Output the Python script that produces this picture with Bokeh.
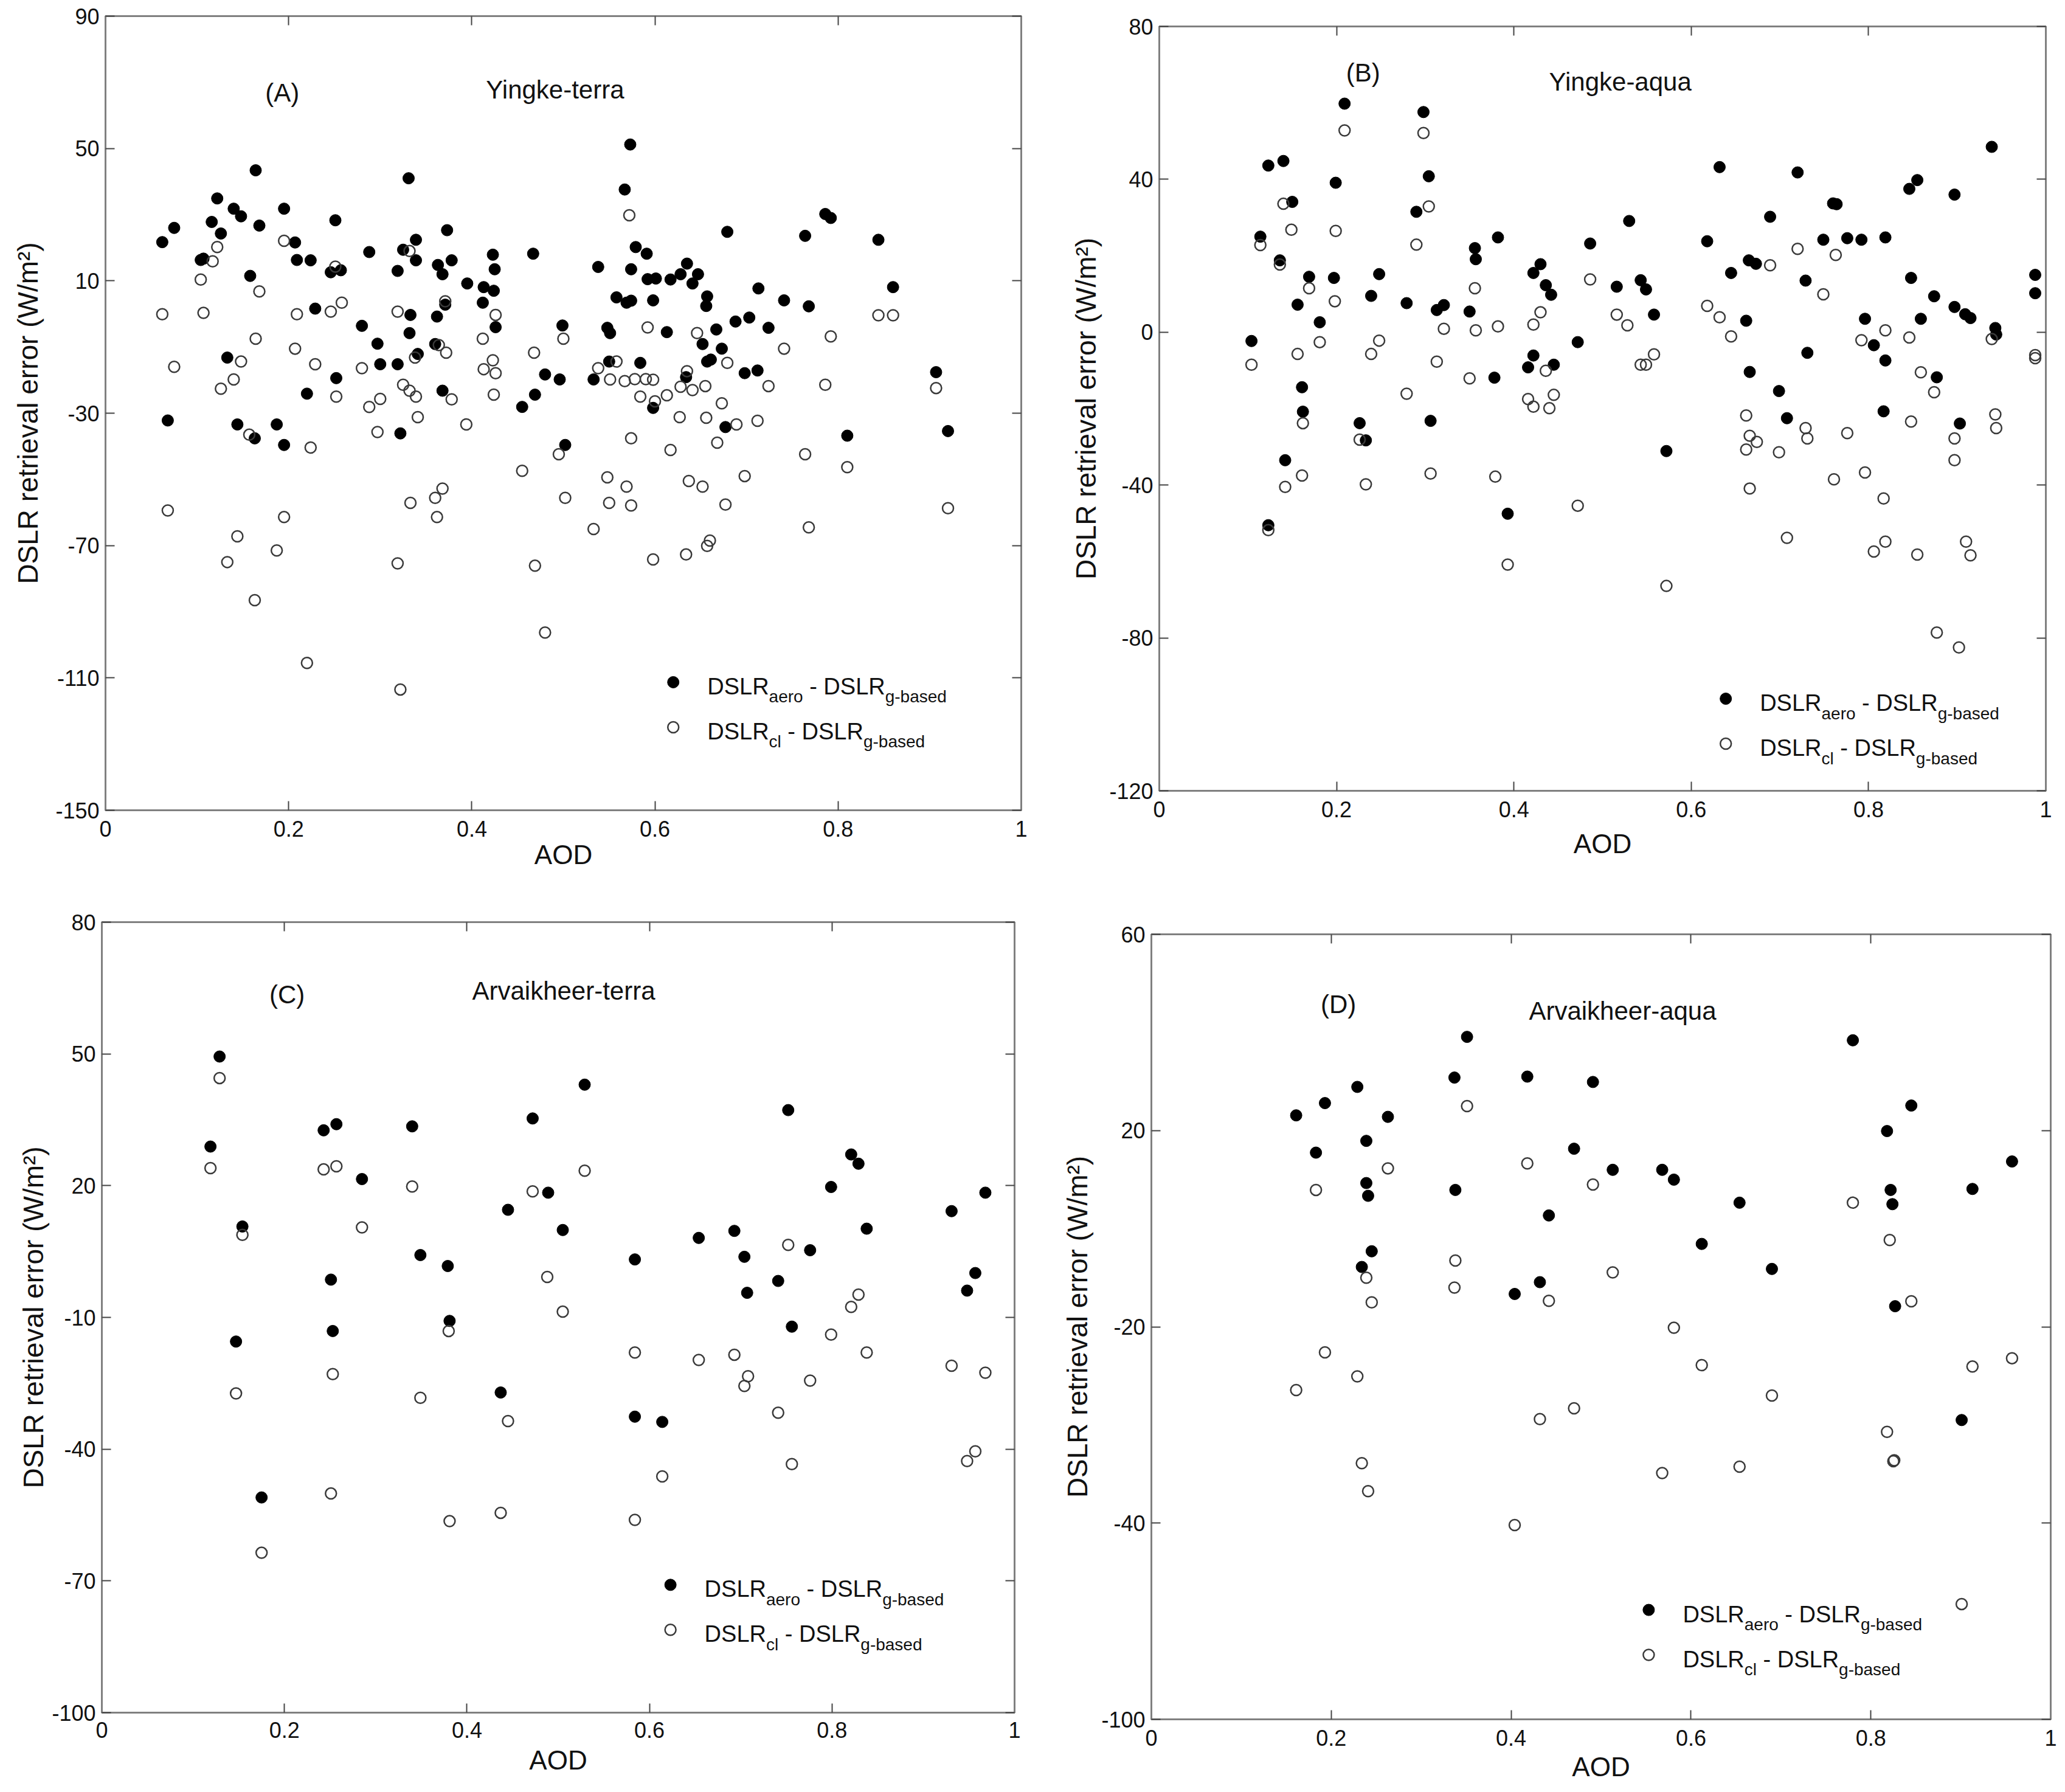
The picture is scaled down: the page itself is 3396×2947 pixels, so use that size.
from bokeh.plotting import figure
from bokeh.models import LinearAxis, FixedTicker, CustomJSTickFormatter
from bokeh.embed import file_html
from bokeh.resources import INLINE
from bokeh.core.properties import value

FONT = "Liberation Sans"
TXT = "#111111"
FRAME = "#808080"

# ---------------- data ----------------
x_ticks = [0, 0.2, 0.4, 0.6, 0.8, 1]
x_tick_labels = ["0", "0.2", "0.4", "0.6", "0.8", "1"]

a_y_ticks = [-150, -110, -70, -30, 10, 50, 90]
a_y_tick_labels = ["-150", "-110", "-70", "-30", "10", "50", "90"]
b_y_ticks = [-120, -80, -40, 0, 40, 80]
b_y_tick_labels = ["-120", "-80", "-40", "0", "40", "80"]
c_y_ticks = [-100, -70, -40, -10, 20, 50, 80]
c_y_tick_labels = ["-100", "-70", "-40", "-10", "20", "50", "80"]
d_y_ticks = [-100, -60, -20, 20, 60]
d_y_tick_labels = ["-100", "-40", "-20", "20", "60"]

panel_titles = ["Yingke-terra", "Yingke-aqua", "Arvaikheer-terra", "Arvaikheer-aqua"]
panel_tags = ["(A)", "(B)", "(C)", "(D)"]

# (AOD, error) pairs
a_aero = [(0.062,21.7),(0.075,26.0),(0.104,16.3),(0.107,16.7),(0.122,34.9),(0.116,27.8),(0.126,24.3),
          (0.140,31.8),(0.148,29.5),(0.164,43.4),(0.168,26.7),(0.158,11.5),(0.195,31.8),(0.207,21.6),
          (0.209,16.3),(0.224,16.2),(0.251,28.3),(0.246,12.6),(0.257,13.2),(0.229,1.6),(0.133,-13.2),
          (0.068,-32.2),(0.144,-33.4),(0.163,-37.6),(0.187,-33.4),(0.195,-39.6),(0.220,-24.1),(0.252,-19.4),
          (0.280,-3.6),(0.297,-9.0),(0.300,-15.2),(0.288,18.7),(0.319,13.0),(0.325,19.4),(0.339,22.4),
          (0.339,16.2),(0.331,41.0),(0.319,-15.2),(0.333,-0.3),(0.332,-5.8),(0.341,-12.1),(0.322,-36.1),
          (0.363,14.8),(0.368,12.0),(0.378,16.2),(0.373,25.3),(0.371,2.8),(0.362,-0.8),(0.360,-9.1),
          (0.368,-23.2),(0.395,9.2),(0.413,8.1),(0.424,7.0),(0.412,3.4),(0.423,17.9),(0.425,13.5),
          (0.426,-4.0),(0.467,18.2),(0.455,-28.1),(0.469,-24.4),(0.480,-18.3),(0.496,-19.8),(0.499,-3.5),
          (0.502,-39.6),
          (0.573,51.2),(0.567,37.6),(0.579,20.2),(0.591,18.2),(0.538,14.2),(0.574,13.5),(0.558,5.0),
          (0.569,3.4),(0.574,4.0),(0.598,4.1),(0.592,10.5),(0.601,10.7),(0.617,10.4),(0.628,12.0),
          (0.635,15.2),(0.647,12.0),(0.641,9.2),(0.657,5.3),(0.656,2.4),(0.548,-4.2),(0.551,-5.8),
          (0.550,-14.4),(0.533,-19.8),(0.584,-14.8),(0.613,-5.5),(0.598,-28.4),(0.634,-19.1),(0.652,-9.1),
          (0.667,-4.7),(0.673,-10.5),(0.657,-14.4),(0.661,-13.8),(0.679,24.8),(0.688,-2.3),(0.703,-1.1),
          (0.713,7.7),(0.698,-17.9),(0.712,-17.1),(0.724,-4.2),(0.741,4.1),(0.768,2.3),(0.764,23.6),
          (0.786,30.2),(0.792,29.0),(0.844,22.4),(0.860,8.1),(0.677,-34.2),(0.810,-36.8),(0.907,-17.6),
          (0.920,-35.4)]
a_cl = [(0.062,-0.1),(0.075,-16.0),(0.068,-59.4),(0.104,10.4),(0.107,0.3),(0.117,15.9),(0.122,20.2),
        (0.126,-22.6),(0.133,-75.0),(0.140,-19.8),(0.144,-67.2),(0.148,-14.4),(0.157,-36.5),(0.163,-86.5),
        (0.164,-7.5),(0.168,6.8),(0.195,22.1),(0.195,-61.4),(0.187,-71.5),(0.207,-10.5),(0.209,-0.1),
        (0.220,-105.5),(0.224,-40.4),(0.229,-15.2),(0.246,0.7),(0.251,14.3),(0.252,-25.0),(0.258,3.4),
        (0.280,-16.4),(0.288,-28.1),(0.300,-25.7),(0.297,-35.7),(0.319,0.7),(0.319,-75.4),(0.322,-113.5),
        (0.325,-21.4),(0.332,-23.2),(0.332,19.0),(0.338,-13.2),(0.339,-25.0),(0.341,-31.2),(0.333,-57.1),
        (0.360,-55.6),(0.368,-52.8),(0.362,-61.4),(0.364,-9.4),(0.372,-11.7),(0.371,3.8),(0.378,-25.8),
        (0.394,-33.4),(0.412,-7.5),(0.413,-16.7),(0.423,-14.0),(0.426,-17.9),(0.424,-24.4),(0.426,-0.3),
        (0.468,-11.7),(0.455,-47.4),(0.469,-76.1),(0.480,-96.3),(0.495,-42.4),(0.500,-7.5),(0.502,-55.6),
        (0.572,29.8),(0.538,-16.4),(0.558,-14.4),(0.551,-19.8),(0.567,-20.3),(0.578,-19.7),(0.590,-19.7),
        (0.598,-19.9),(0.592,-4.1),(0.584,-25.0),(0.600,-26.4),(0.613,-24.6),(0.628,-22.0),(0.635,-17.3),
        (0.641,-23.0),(0.655,-21.8),(0.646,-5.8),(0.679,-14.8),(0.673,-27.0),(0.627,-31.2),(0.656,-31.4),
        (0.689,-33.4),(0.712,-32.3),(0.724,-21.8),(0.741,-10.5),(0.792,-6.8),(0.786,-21.4),(0.844,-0.4),
        (0.860,-0.4),(0.907,-22.4),(0.574,-37.6),(0.617,-41.1),(0.668,-38.9),(0.764,-42.4),(0.810,-46.3),
        (0.548,-49.4),(0.569,-52.2),(0.550,-57.1),(0.574,-57.9),(0.637,-50.5),(0.652,-52.2),(0.677,-57.6),
        (0.698,-49.0),(0.920,-58.7),(0.533,-65.0),(0.768,-64.5),(0.598,-74.2),(0.634,-72.7),(0.660,-68.5),
        (0.657,-70.1)]

b_aero = [(0.104,-2.3),(0.114,25.0),(0.123,43.6),(0.140,44.8),(0.150,34.1),(0.136,18.8),(0.156,7.2),
          (0.169,14.5),(0.181,2.6),(0.197,14.2),(0.199,39.1),(0.209,59.8),(0.161,-14.4),(0.162,-20.8),
          (0.142,-33.5),(0.123,-50.5),(0.226,-23.8),(0.233,-28.3),(0.239,9.5),(0.248,15.2),(0.279,7.6),
          (0.290,31.5),(0.298,57.6),(0.304,40.8),(0.313,5.8),(0.321,7.1),(0.306,-23.2),(0.350,5.4),
          (0.356,22.0),(0.357,19.1),(0.382,24.8),(0.378,-11.9),(0.393,-47.5),(0.416,-9.2),(0.422,-6.1),
          (0.422,15.5),(0.430,17.8),(0.436,12.3),(0.442,9.8),(0.445,-8.5),(0.472,-2.6),(0.486,23.2),
          (0.516,11.9),(0.530,29.1),
          (0.543,13.6),(0.549,11.2),(0.558,4.6),(0.572,-31.1),(0.618,23.8),(0.632,43.2),(0.645,15.5),
          (0.662,3.0),(0.665,18.8),(0.673,17.9),(0.666,-10.4),(0.689,30.2),(0.699,-15.4),(0.708,-22.5),
          (0.720,41.8),(0.729,13.5),(0.731,-5.4),(0.749,24.2),(0.760,33.7),(0.764,33.5),(0.776,24.6),
          (0.792,24.2),(0.796,3.5),(0.806,-3.4),(0.819,24.8),(0.819,-7.4),(0.817,-20.7),(0.846,37.5),
          (0.855,39.8),(0.848,14.2),(0.859,3.5),(0.874,9.4),(0.877,-11.8),(0.897,36.0),(0.897,6.6),
          (0.909,4.7),(0.915,3.7),(0.903,-23.9),(0.939,48.5),(0.943,1.1),(0.944,-0.6),(0.988,15.0),
          (0.988,10.2)]
b_cl = [(0.104,-8.5),(0.114,22.8),(0.136,17.7),(0.140,33.6),(0.149,26.8),(0.169,11.5),(0.156,-5.7),
        (0.181,-2.6),(0.198,8.1),(0.199,26.5),(0.209,52.8),(0.162,-23.8),(0.161,-37.5),(0.142,-40.5),
        (0.123,-51.8),(0.226,-28.1),(0.233,-39.8),(0.239,-5.7),(0.248,-2.2),(0.279,-16.1),(0.290,22.9),
        (0.298,52.1),(0.304,32.9),(0.313,-7.7),(0.321,0.9),(0.306,-37.0),(0.350,-12.1),(0.356,11.5),
        (0.357,0.5),(0.382,1.5),(0.379,-37.8),(0.393,-60.8),(0.416,-17.5),(0.422,-19.5),(0.422,2.0),
        (0.430,5.2),(0.436,-10.1),(0.440,-19.9),(0.445,-16.4),(0.472,-45.4),(0.486,13.8),(0.516,4.6),
        (0.528,1.8),
        (0.543,-8.5),(0.549,-8.5),(0.558,-5.8),(0.572,-66.4),(0.618,6.9),(0.632,3.9),(0.645,-1.1),
        (0.689,17.5),(0.662,-21.8),(0.666,-27.1),(0.674,-28.7),(0.662,-30.7),(0.666,-40.9),(0.699,-31.4),
        (0.708,-53.8),(0.720,21.8),(0.729,-25.1),(0.731,-27.8),(0.749,9.9),(0.763,20.2),(0.776,-26.4),
        (0.761,-38.5),(0.792,-2.1),(0.796,-36.7),(0.806,-57.4),(0.819,0.5),(0.819,-54.8),(0.817,-43.5),
        (0.846,-1.4),(0.859,-10.5),(0.848,-23.4),(0.874,-15.7),(0.855,-58.2),(0.877,-78.6),(0.902,-82.5),
        (0.897,-27.8),(0.897,-33.5),(0.910,-54.8),(0.915,-58.4),(0.939,-1.8),(0.943,-21.5),(0.944,-25.1),
        (0.988,-6.0),(0.988,-6.8)]

c_aero = [(0.119,28.9),(0.129,49.4),(0.154,10.7),(0.147,-15.5),(0.175,-51.0),(0.243,32.6),(0.257,34.0),
          (0.285,21.5),(0.251,-1.4),(0.253,-13.1),(0.340,33.5),(0.349,4.2),(0.379,1.7),(0.381,-10.8),
          (0.437,-27.1),(0.445,14.5),(0.472,35.3),(0.489,18.4),(0.505,9.9),(0.529,43.0),(0.584,3.2),
          (0.584,-32.6),(0.614,-33.8),(0.654,8.1),(0.693,9.7),(0.704,3.8),(0.707,-4.4),(0.741,-1.7),
          (0.752,37.2),(0.756,-12.1),(0.776,5.3),(0.799,19.7),(0.821,27.1),(0.829,25.0),(0.838,10.2),
          (0.931,14.2),(0.948,-3.9),(0.957,0.1),(0.968,18.4)]
c_cl = [(0.119,24.0),(0.129,44.5),(0.154,8.8),(0.147,-27.3),(0.175,-63.6),(0.243,23.7),(0.257,24.4),
        (0.285,10.5),(0.253,-22.9),(0.251,-50.1),(0.340,19.8),(0.349,-28.3),(0.380,-13.1),(0.381,-56.4),
        (0.437,-54.5),(0.445,-33.6),(0.472,18.7),(0.488,-0.8),(0.505,-8.7),(0.529,23.4),(0.584,-18.0),
        (0.584,-56.1),(0.614,-46.2),(0.654,-19.7),(0.693,-18.5),(0.708,-23.4),(0.704,-25.6),(0.741,-31.7),
        (0.752,6.5),(0.756,-43.4),(0.776,-24.4),(0.799,-13.9),(0.821,-7.6),(0.829,-4.8),(0.838,-18.0),
        (0.931,-21.0),(0.948,-42.7),(0.957,-40.5),(0.968,-22.6)]

d_aero = [(0.161,23.1),(0.193,25.6),(0.229,28.9),(0.263,22.8),(0.183,15.5),(0.239,17.9),(0.239,9.3),
          (0.241,6.7),(0.245,-4.6),(0.234,-7.8),(0.337,30.8),(0.351,39.1),(0.338,7.9),(0.418,31.0),
          (0.404,-13.3),(0.432,-10.9),(0.470,16.3),(0.442,2.7),(0.491,29.9),(0.513,12.0),(0.568,12.0),
          (0.581,10.0),(0.654,5.3),(0.612,-3.1),(0.690,-8.2),(0.780,38.4),(0.818,19.9),(0.845,25.1),
          (0.822,7.9),(0.824,5.0),(0.827,-15.8),(0.913,8.1),(0.957,13.7),(0.901,-39.0)]
d_cl = [(0.183,7.9),(0.263,12.3),(0.239,-10.0),(0.245,-15.0),(0.193,-25.2),(0.161,-32.9),(0.229,-30.1),
        (0.234,-47.8),(0.241,-53.5),(0.351,25.0),(0.338,-6.5),(0.337,-12.0),(0.418,13.3),(0.442,-14.7),
        (0.432,-38.8),(0.470,-36.6),(0.404,-60.4),(0.491,9.0),(0.513,-8.9),(0.581,-20.2),(0.612,-27.8),
        (0.690,-34.0),(0.568,-49.8),(0.654,-48.5),(0.780,5.3),(0.821,-2.3),(0.845,-14.8),(0.818,-41.4),
        (0.825,-47.4),(0.826,-47.2),(0.913,-28.1),(0.957,-26.4),(0.901,-76.5)]

# ---------------- helpers ----------------
ARIAL = {'D': .722, 'S': .667, 'L': .556, 'R': .722, '-': .333, ' ': .278, 'a': .556, 'e': .556,
         'r': .333, 'o': .556, 'c': .5, 'l': .222, 'g': .556, 'b': .556, 's': .5, 'd': .556}


def tw(s, size):
    return sum(ARIAL.get(ch, .556) for ch in s) * size


def fmt(vals, labs):
    return CustomJSTickFormatter(args=dict(vals=vals, labs=labs), code="""
        for (let i = 0; i < vals.length; i++) {
            if (Math.abs(vals[i] - tick) < 1e-6) { return labs[i]; }
        }
        return '';
    """)


def style_axis(ax, ticks, labs, show, standoff=10, label=None, label_standoff=5):
    ax.ticker = FixedTicker(ticks=ticks)
    ax.formatter = fmt(ticks, labs)
    ax.axis_line_color = FRAME
    ax.axis_line_width = 3
    ax.major_tick_in = 15
    ax.major_tick_out = 0
    ax.major_tick_line_color = "#444444"
    ax.major_tick_line_width = 2
    ax.minor_tick_line_color = None
    ax.major_label_text_font = FONT
    if show:
        ax.major_label_text_color = TXT
        ax.major_label_text_font_size = "36px"
        ax.major_label_standoff = standoff
    else:
        ax.major_label_text_color = None
        ax.major_label_text_font_size = "1px"
        ax.major_label_standoff = 0
    if label:
        ax.axis_label = label
        ax.axis_label_text_font = FONT
        ax.axis_label_text_font_style = "normal"
        ax.axis_label_text_font_size = cfg_label_size(label)
        ax.axis_label_text_color = TXT
        ax.axis_label_standoff = label_standoff


def cfg_label_size(label):
    return "44px" if label == "AOD" else "46px"


def panel(cfg):
    W, H = cfg["size"]
    L, R, T, B = cfg["borders"]
    fw, fh = W - L - R, H - T - B
    ymin, ymax = cfg["yrange"]
    p = figure(name=cfg["name"], width=W, height=H, x_range=(0, 1), y_range=(ymin, ymax),
               output_backend="svg", toolbar_location=None,
               min_border_left=L, min_border_right=R, min_border_top=T, min_border_bottom=B,
               background_fill_color="white", border_fill_color="white",
               outline_line_color=FRAME, outline_line_width=3)
    p.xgrid.visible = False
    p.ygrid.visible = False

    style_axis(p.xaxis[0], x_ticks, x_tick_labels, True, cfg["xts"], "AOD", cfg["xls"])
    style_axis(p.yaxis[0], cfg["yticks"], cfg["ylabels"], True, 10,
               "DSLR retrieval error (W/m\u00b2)", cfg["yls"])
    top = LinearAxis()
    style_axis(top, x_ticks, x_tick_labels, False)
    p.add_layout(top, "above")
    right = LinearAxis()
    style_axis(right, cfg["yticks"], cfg["ylabels"], False)
    p.add_layout(right, "right")

    aero, cl = cfg["aero"], cfg["cl"]
    p.scatter([v[0] for v in aero], [v[1] for v in aero], marker="circle", size=19,
              fill_color="black", line_color="black", line_width=1)
    p.scatter([v[0] for v in cl], [v[1] for v in cl], marker="circle", size=18,
              fill_color=None, line_color="#3a3a3a", line_width=2.5)

    # panel tag and station title
    (tx, ty), (sx, sy) = cfg["tagpos"], cfg["titlepos"]
    p.text([tx], [ty], [cfg["tag"]], text_font=value(FONT), text_font_size="42px",
           text_align="center", text_baseline="middle", text_color=TXT)
    p.text([sx], [sy], [cfg["title"]], text_font=value(FONT), text_font_size="42px",
           text_align="center", text_baseline="middle", text_color=TXT)

    # legend with subscripts
    dxp = 1.0 / fw
    dyp = (ymax - ymin) / fh
    lx, ly = cfg["legend"]
    for k, (sub, filled) in enumerate([("aero", True), ("cl", False)]):
        yd = ly - k * 74 * dyp
        if filled:
            p.scatter([lx], [yd], marker="circle", size=19, fill_color="black", line_color="black")
        else:
            p.scatter([lx], [yd], marker="circle", size=18, fill_color=None,
                      line_color="#3a3a3a", line_width=2.5)
        base = yd - 7 * dyp
        xs = lx + 56 * dxp
        pieces = [("DSLR", 38, 0, 0), (sub, 28, 17, 0), ("- DSLR", 38, 0, tw(" ", 38)),
                  ("g-based", 28, 17, 0)]
        for txt, fs, drop, pre in pieces:
            xs += pre * dxp
            p.text([xs], [base - drop * dyp], [txt], text_font=value(FONT),
                   text_font_size=f"{fs}px", text_align="left", text_baseline="alphabetic",
                   text_color=TXT)
            xs += tw(txt, fs) * dxp
    return p


cfgs = [
    dict(name="pA", size=(1720, 1450), borders=(173, 41, 26, 118), yrange=(-150, 90),
         yticks=a_y_ticks, ylabels=a_y_tick_labels, aero=a_aero, cl=a_cl,
         tag=panel_tags[0], title=panel_titles[0], tagpos=(0.193, 66.9), titlepos=(0.491, 67.7),
         legend=(0.620, -111.3), xts=17, xls=2, yls=16),
    dict(name="pB", size=(1670, 1450), borders=(186, 26, 43, 150), yrange=(-120, 80),
         yticks=b_y_ticks, ylabels=b_y_tick_labels, aero=b_aero, cl=b_cl,
         tag=panel_tags[1], title=panel_titles[1], tagpos=(0.230, 67.9), titlepos=(0.520, 65.5),
         legend=(0.639, -95.9), xts=17, xls=16, yls=9),
    dict(name="pC", size=(1720, 1490), borders=(167, 52, 66, 124), yrange=(-100, 80),
         yticks=c_y_ticks, ylabels=c_y_tick_labels, aero=c_aero, cl=c_cl,
         tag=panel_tags[2], title=panel_titles[2], tagpos=(0.203, 63.5), titlepos=(0.506, 64.4),
         legend=(0.623, -70.9), xts=15, xls=9, yls=1),
    dict(name="pD", size=(1670, 1490), borders=(173, 18, 86, 113), yrange=(-100, 60),
         yticks=d_y_ticks, ylabels=d_y_tick_labels, aero=d_aero, cl=d_cl,
         tag=panel_tags[3], title=panel_titles[3], tagpos=(0.208, 45.8), titlepos=(0.524, 44.4),
         legend=(0.553, -77.7), xts=17, xls=7, yls=10),
]

pa, pb, pc, pd = [panel(c) for c in cfgs]

TEMPLATE = """
{% block postamble %}
<style>
html, body { margin: 0 !important; padding: 0 !important; background: #ffffff; }
</style>
{% endblock %}
{% block contents %}
<div style="position: relative; width: 3390px; height: 2940px;">
  <div style="position: absolute; left: 0px; top: 0px;">{{ embed(roots.pA) }}</div>
  <div style="position: absolute; left: 1720px; top: 0px;">{{ embed(roots.pB) }}</div>
  <div style="position: absolute; left: 0px; top: 1450px;">{{ embed(roots.pC) }}</div>
  <div style="position: absolute; left: 1720px; top: 1450px;">{{ embed(roots.pD) }}</div>
</div>
{% endblock %}
"""

open("out.html", "w").write(file_html([pa, pb, pc, pd], INLINE, template=TEMPLATE))
